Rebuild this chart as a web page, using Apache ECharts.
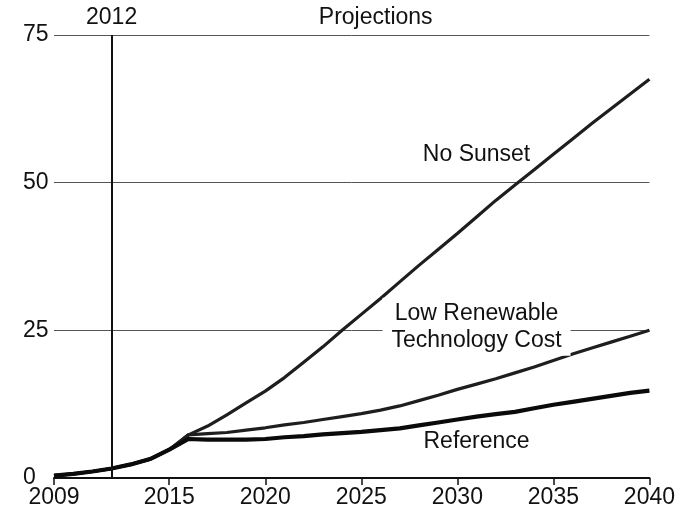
<!DOCTYPE html>
<html>
<head>
<meta charset="utf-8">
<script src="https://cdn.jsdelivr.net/npm/echarts@6/dist/echarts.min.js"></script>
<style>html,body{margin:0;padding:0;background:#fff}#c{width:678px;height:514px}</style>
</head>
<body>
<div id="c"></div>
<script>
var years = [2009,2010,2011,2012,2013,2014,2015,2016,2017,2018,2019,2020,2021,2022,2023,2024,2025,2026,2027,2028,2029,2030,2031,2032,2033,2034,2035,2036,2037,2038,2039,2040];
var reference = [0.4,0.7,1.1,1.6,2.3,3.2,4.8,6.6,6.5,6.5,6.5,6.6,6.9,7.1,7.4,7.6,7.8,8.1,8.4,8.9,9.4,9.9,10.4,10.8,11.2,11.8,12.4,12.9,13.4,13.9,14.4,14.8];
var lowRenewable = [0.4,0.7,1.1,1.6,2.3,3.2,4.8,7.3,7.5,7.7,8.1,8.5,9.0,9.4,9.9,10.4,10.9,11.5,12.2,13.1,14.0,15.0,15.9,16.8,17.8,18.8,19.9,21.0,22.0,23.0,24.0,25.0];
var noSunset = [0.4,0.7,1.1,1.6,2.3,3.2,4.8,7.3,8.8,10.7,12.7,14.7,17.0,19.6,22.2,25.0,27.7,30.4,33.2,36.0,38.7,41.4,44.2,47.0,49.6,52.2,54.8,57.4,60.0,62.5,65.0,67.5];
var xTicks = [2009,2015,2020,2025,2030,2035,2040];
var yTicks = [0,25,50,75];
var lastHistYear = 2012;

function pairs(v){ return years.map(function(y,i){ return [y, v[i]]; }); }

var FONT = "'Liberation Sans', Arial, sans-serif";
var FS = 23;
var chart = echarts.init(document.getElementById('c'), null, {renderer:'canvas'});
var option = {
  animation: false,
  backgroundColor: '#fff',
  textStyle: {fontFamily: FONT},
  grid: {left: 54, right: 25, top: 35, bottom: 36},
  xAxis: {
    type: 'value', min: 2009, max: 2040,
    axisLine: {show: true, lineStyle: {color: '#111', width: 2}},
    axisTick: {show: true, customValues: xTicks, length: 7, inside: false, lineStyle: {color: '#111', width: 1.5}},
    axisLabel: {customValues: xTicks, fontSize: FS, color: '#111', margin: 8, fontFamily: FONT, formatter: function(v){return String(v);}},
    splitLine: {show: false}
  },
  yAxis: {
    type: 'value', min: 0, max: 75, interval: 25,
    axisLine: {show: false}, axisTick: {show: false},
    axisLabel: {fontSize: FS, color: '#111', align: 'left', margin: 31, fontFamily: FONT},
    splitLine: {show: true, lineStyle: {color: '#555', width: 1}}
  },
  series: [
    {
      name: 'No Sunset', type: 'line', data: pairs(noSunset), symbol: 'none',
      lineStyle: {color: '#1e1e1e', width: 3.2}, z: 3,
      markLine: {
        silent: true, symbol: 'none',
        lineStyle: {color: '#111', width: 2, type: 'solid'},
        label: {show: false},
        data: [{xAxis: lastHistYear}]
      }
    },
    {
      name: 'Low Renewable Technology Cost', type: 'line', data: pairs(lowRenewable), symbol: 'none',
      lineStyle: {color: '#1e1e1e', width: 3.2}, z: 3
    },
    {
      name: 'Reference', type: 'line', data: pairs(reference), symbol: 'none',
      lineStyle: {color: '#0a0a0a', width: 4.2}, z: 4
    }
  ]
};
chart.setOption(option);

function px(x, y){ return chart.convertToPixel({gridIndex: 0}, [x, y]); }
var pNo = px(2031.0, 54.7);
var pLow = px(2031.0, 25.6);
var pRef = px(2031.0, 6.2);
var p2012 = px(lastHistYear, 75);
var pProj = px(2025.75, 75);
function txt(p, s, extra){
  var o = {type: 'text', x: p[0], y: p[1], z: 10,
    style: {text: s, font: FS + 'px ' + FONT, fill: '#111', align: 'center', verticalAlign: 'middle'}};
  if (extra) for (var k in extra) o.style[k] = extra[k];
  return o;
}
chart.setOption({graphic: [
  txt(pNo, 'No Sunset'),
  txt(pLow, 'Low Renewable\nTechnology Cost', {backgroundColor: '#fff', padding: [2, 9, 2, 9], lineHeight: 27}),
  txt(pRef, 'Reference'),
  txt([p2012[0], p2012[1] - 17], '2012'),
  txt([pProj[0], pProj[1] - 17], 'Projections')
]});
</script>
</body>
</html>
